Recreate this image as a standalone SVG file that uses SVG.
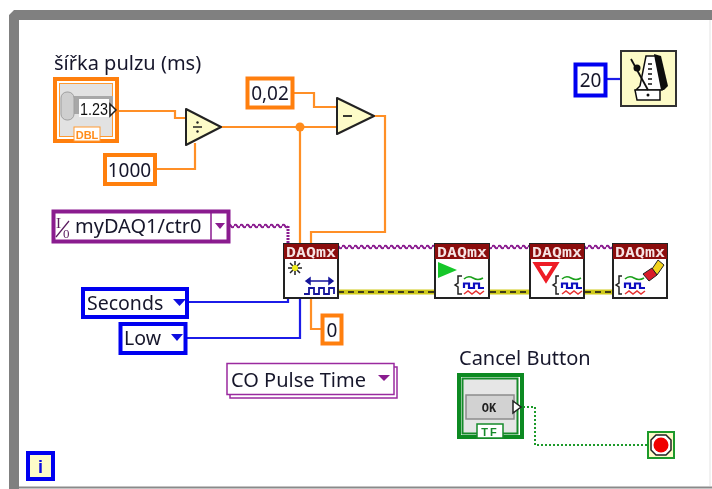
<svg xmlns="http://www.w3.org/2000/svg" width="712" height="489" viewBox="0 0 712 489">
<style>
text{font-family:"Noto Sans","Open Sans","Liberation Sans",sans-serif;fill:#17172c}
.lb{font-size:20px}
.en{font-size:19.500px}
.num{font-size:19px}
.w{fill:none;stroke-linejoin:miter}
.o{stroke:#ff8f26;stroke-width:2.200}
.b{stroke:#1a1ae8;stroke-width:2.200}
.p{stroke:url(#wave);stroke-width:5}
.pv{stroke:#8a1a8f;stroke-width:3;stroke-dasharray:2 1}
.e{stroke:#cfca1c;stroke-width:5}
.ed{stroke:#111;stroke-width:1.600;stroke-dasharray:6 4}
.g{stroke:#1f9a2c;stroke-width:2;stroke-dasharray:2 2}
.co{fill:#fff;stroke:#ff7f0e;stroke-width:4}
.cb{fill:#fff;stroke:#0000f0;stroke-width:4}
.cp{fill:#fff;stroke:#8a1a8f;stroke-width:4}
.prim{fill:#fdfbc8;stroke:#222;stroke-width:2;stroke-linejoin:round}
.vi{fill:#fff;stroke:#222;stroke-width:2}
.hd{fill:#8b0a0a}
.hdt{font-family:"DejaVu Sans Mono","Liberation Mono",monospace;font-size:14px;fill:#f6e4e4;font-weight:bold}
.tri{fill:#8a1a8f}
.trib{fill:#1010e0}
.w1{fill:none;stroke:#1ba01b;stroke-width:1.500}
.w2{fill:none;stroke:#1010c0;stroke-width:2.200}
.w3{fill:none;stroke:#e83030;stroke-width:1.500}
.br{fill:none;stroke:#222;stroke-width:1.500}
</style>
<defs>
<pattern id="wave" patternUnits="userSpaceOnUse" width="6" height="21">
<path d="M0 16Q1.500 13 3 16T6 16" fill="none" stroke="#8a1a8f" stroke-width="2"/>
</pattern>
<filter id="soft" x="0" y="0" width="100%" height="100%"><feGaussianBlur stdDeviation="0.4"/></filter>
</defs>
<rect width="712" height="489" fill="#fff"/>
<g filter="url(#soft)">
<g id="loop-frame">
<path d="M712 10H14L9 15V489H19V20H712Z" fill="#808080"/>
<rect x="19" y="486.500" width="693" height="2" fill="#8a8a8a"/>
<rect x="709.500" y="20" width="1" height="466" fill="#e4e4e4"/>
</g>
<g id="connectors">
<path class="w o" d="M118 111H175V118H186"/>
<path class="w o" d="M156 169H195V143"/>
<path class="w o" d="M221 127H337"/>
<path class="w o" d="M293 93H314V107H337"/>
<path class="w o" d="M300 127V243"/>
<path class="w o" d="M374 116H385V232H311V243"/>
<path class="w o" d="M311 298V329H321"/>
<circle cx="300" cy="127" r="4.500" fill="#ff8c1a"/>
<path class="w b" d="M606 79H621"/>
<path class="w b" d="M189 302H288V298"/>
<path class="w b" d="M187 338H300V298"/>
<path class="w p" d="M230 226H288"/>
<path class="w pv" d="M288 226V243"/>
<path class="w p" d="M338 247H434M490 247H529M585 247H612"/>
<path class="w e" d="M338 292H434M490 292H529M585 292H612"/>
<path class="w ed" d="M338 292H434M490 292H529M585 292H612"/>
<path class="w g" d="M523 407H535V445H647"/>
</g>
<g id="pulse-width-control">
<text class="lb" x="54" y="70">šířka pulzu (ms)</text>
<rect x="55" y="79" width="62" height="62" fill="#fff" stroke="#ff7f0e" stroke-width="4"/>
<rect x="59.500" y="83.500" width="53" height="53" fill="#e2e2e2" stroke="#ff9a33" stroke-width="1"/>
<rect x="62" y="96" width="51" height="18" fill="#a8a8a8"/>
<rect x="61" y="92" width="13" height="28" rx="6" fill="#cfcfcf" stroke="#a0a0a0"/>
<rect x="79" y="99" width="30" height="18" fill="#fff"/>
<text x="80" y="115" textLength="28" lengthAdjust="spacingAndGlyphs" style="font-size:17px;fill:#111;font-family:'Liberation Sans',sans-serif">1.23</text>
<path d="M110 104L116 110L110 116Z" fill="#fff" stroke="#222" stroke-width="1.500"/>
<rect x="74" y="127" width="26" height="14" fill="#fff" stroke="#ff9a33" stroke-width="1"/>
<text x="87" y="139" text-anchor="middle" style="font-size:11px;font-weight:bold;fill:#ff8c1a;font-family:'Liberation Sans',sans-serif">DBL</text>
</g>
<g id="const-1000">
<rect class="co" x="105" y="155" width="50" height="29"/>
<text class="num" x="129.500" y="177" text-anchor="middle">1000</text>
</g>
<g id="divide">
<path class="prim" d="M186 109L221 127L186 145Z"/>
<path d="M193 127H202" stroke="#222" stroke-width="1.500"/>
<circle cx="197.500" cy="122.500" r="1.200" fill="#222"/>
<circle cx="197.500" cy="131.500" r="1.200" fill="#222"/>
</g>
<g id="const-002">
<rect class="co" x="247.500" y="78.500" width="45" height="29"/>
<text class="num" x="270" y="100" text-anchor="middle">0,02</text>
</g>
<g id="subtract">
<path class="prim" d="M337 98L374 116L337 134Z"/>
<path d="M343 116H352" stroke="#222" stroke-width="1.800"/>
</g>
<g id="const-20">
<rect class="cb" x="575.500" y="64.500" width="30" height="31"/>
<text class="num" x="590.500" y="87" text-anchor="middle">20</text>
</g>
<g id="wait-timer">
<rect x="621" y="51" width="55" height="55" fill="#fdfbc8" stroke="#333" stroke-width="2"/>
<path d="M646 56H656L662 86V90H636L640 86Z" fill="#fff" stroke="#111" stroke-width="1.500"/>
<path d="M654 54L661 56L668 86L664 90H661L655 60Z" fill="#111"/>
<path d="M635 90H660V100H637Z" fill="#fff" stroke="#111" stroke-width="1.500"/>
<path d="M631 59L648 90" stroke="#111" stroke-width="1.800"/>
<circle cx="637" cy="68" r="3.500" fill="#111"/>
<path d="M648 64H652M648 69H652M648 74H652M648 79H652M648 84H652" stroke="#111" stroke-width="1.500"/>
<circle cx="648" cy="95" r="1.500" fill="#111"/>
</g>
<g id="counter-channel">
<rect class="cp" x="53.500" y="211.500" width="175" height="30"/>
<path d="M211 211V242" stroke="#8a1a8f" stroke-width="1.500"/>
<text x="56" y="228" style="font-size:15px;fill:#5a1a5f;font-family:'Liberation Serif',serif">I</text>
<path d="M56 237L69 221" stroke="#5a1a5f" stroke-width="1.200"/>
<text x="63" y="238" style="font-size:13px;fill:#5a1a5f;font-family:'Liberation Serif',serif">0</text>
<text class="lb" x="75" y="233">myDAQ1/ctr0</text>
<path class="tri" d="M215 223H225L220 229Z"/>
</g>
<g id="seconds-enum">
<rect class="cb" x="83" y="289" width="104" height="28"/>
<text class="en" x="87" y="310">Seconds</text>
<path class="trib" d="M173 299H186L179.500 306Z"/>
</g>
<g id="low-enum">
<rect class="cb" x="120.500" y="324" width="65" height="29"/>
<text class="en" x="124" y="345">Low</text>
<path class="trib" d="M171 334H183L177 341Z"/>
</g>
<g id="const-0">
<rect class="co" x="322.500" y="315.500" width="19" height="28"/>
<text class="num" x="332" y="337" text-anchor="middle">0</text>
</g>
<g id="create-channel">
<rect class="vi" x="284" y="244" width="54" height="54"/>
<rect class="hd" x="284" y="244" width="54" height="15"/>
<text class="hdt" x="286" y="256.500" textLength="50" lengthAdjust="spacingAndGlyphs">DAQmx</text>
<path d="M295 261V275M288 268H302M290 263L300 273M300 263L290 273" stroke="#222" stroke-width="1.500"/>
<circle cx="295" cy="268" r="3" fill="#f2ef1a"/>
<path d="M306 281H333M306 281L310 278V284ZM333 281L329 278V284Z" fill="#14149a" stroke="#14149a" stroke-width="1.500"/>
<path d="M304 294H309V288H314V294H319V288H324V294H329V288H334V294" fill="none" stroke="#14149a" stroke-width="1.800"/>
</g>
<g id="start-task">
<rect class="vi" x="435" y="244" width="54" height="54"/>
<rect class="hd" x="435" y="244" width="54" height="15"/>
<text class="hdt" x="437" y="256.500" textLength="50" lengthAdjust="spacingAndGlyphs">DAQmx</text>
<path d="M438 262L457 270L438 278Z" fill="#16c72a"/>
<path class="br" d="M462 276H458V283L455 285L458 287V294H462"/>
<path class="w1" d="M464 279Q468 275 473 278T483 278"/>
<path class="w2" d="M464 288V283.500H469V288H474V283.500H479V288H484"/>
<path class="w3" d="M464 294L468 291L472 294L476 291L480 294L484 291"/>
</g>
<g id="stop-task">
<rect class="vi" x="530" y="244" width="54" height="54"/>
<rect class="hd" x="530" y="244" width="54" height="15"/>
<text class="hdt" x="532" y="256.500" textLength="50" lengthAdjust="spacingAndGlyphs">DAQmx</text>
<path d="M536 264H556L546 280Z" fill="#fff" stroke="#ee1c25" stroke-width="4"/>
<path class="br" d="M559 276H556V283L553 285L556 287V294H559"/>
<path class="w1" d="M562 279Q566 275 571 278T581 278"/>
<path class="w2" d="M562 288V283.500H567V288H572V283.500H577V288H582"/>
<path class="w3" d="M562 294L566 291L570 294L574 291L578 294L582 291"/>
</g>
<g id="clear-task">
<rect class="vi" x="613" y="244" width="54" height="54"/>
<rect class="hd" x="613" y="244" width="54" height="15"/>
<text class="hdt" x="615" y="256.500" textLength="50" lengthAdjust="spacingAndGlyphs">DAQmx</text>
<path class="br" d="M622 276H619V283L616 285L619 287V294H622"/>
<path class="w1" d="M625 279Q629 275 634 278T644 278"/>
<path class="w2" d="M625 288V283.500H630V288H635V283.500H640V288H645"/>
<path class="w3" d="M625 294L629 291L633 294L637 291L641 294L645 291"/>
<path d="M652 269L658 260L664 265L657 275Z" fill="#f2d21a" stroke="#222"/>
<path d="M643 274L652 268L657 275L649 281Z" fill="#d81e2a" stroke="#222"/>
</g>
<g id="pulse-time-enum">
<rect x="230" y="367" width="167" height="31" fill="#fff" stroke="#9a2a9f" stroke-width="1.500"/>
<rect x="227" y="363.500" width="167" height="31" fill="#fff" stroke="#9a2a9f" stroke-width="1.500"/>
<text class="lb" x="231" y="387">CO Pulse Time</text>
<path class="tri" d="M378 375H390L384 381Z"/>
</g>
<g id="cancel-button">
<text class="lb" x="459" y="365">Cancel Button</text>
<rect x="459" y="375" width="63" height="62" fill="#fff" stroke="#0f8a24" stroke-width="4"/>
<rect x="462.500" y="378.500" width="55" height="55" fill="#e6e6e6" stroke="#168a2a" stroke-width="2"/>
<rect x="466" y="395" width="48" height="24" fill="#d2d2d2" stroke="#8c8c8c" stroke-width="1.500"/>
<text x="489" y="412" text-anchor="middle" style="font-size:12px;font-weight:bold;fill:#222;font-family:'Liberation Mono',monospace">OK</text>
<path d="M513 401L521 407L513 413Z" fill="#fff" stroke="#222" stroke-width="1.500"/>
<rect x="477" y="424" width="26" height="14" fill="#fff" stroke="#168a2a" stroke-width="1.500"/>
<text x="490" y="436" text-anchor="middle" style="font-size:11px;font-weight:bold;fill:#168a2a;font-family:'Liberation Sans',sans-serif;letter-spacing:2px">TF</text>
</g>
<g id="stop-terminal">
<rect x="648" y="432" width="26" height="26" fill="#fdfbc8" stroke="#1f9a2c" stroke-width="2"/>
<path d="M656 435H666L671 440V450L666 455H656L651 450V440Z" fill="#fff" stroke="#222" stroke-width="1.500"/>
<circle cx="661" cy="445" r="7.500" fill="#f00000"/>
</g>
<g id="loop-iteration">
<rect class="cb" x="28" y="453" width="25" height="26" style="fill:#fdfbc8"/>
<text x="40.500" y="473" text-anchor="middle" style="font-size:18px;font-weight:bold;fill:#1010e0;font-family:'Liberation Sans',sans-serif">i</text>
</g>
</g>
</svg>
